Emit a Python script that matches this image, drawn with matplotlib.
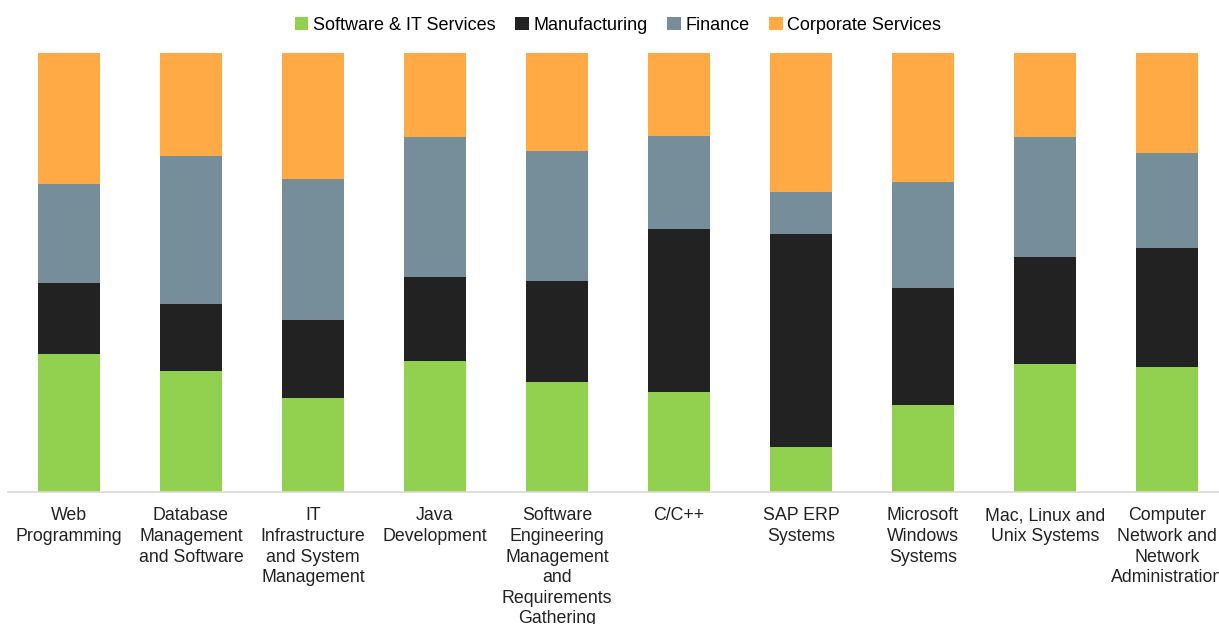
import numpy as np
import matplotlib.pyplot as plt

plt.rcParams['font.family'] = ['Liberation Sans', 'DejaVu Sans']

categories = ['Web\nProgramming', 'Database\nManagement\nand Software',
              'IT\nInfrastructure\nand System\nManagement', 'Java\nDevelopment',
              'Software\nEngineering\nManagement\nand\nRequirements\nGathering',
              'C/C++', 'SAP ERP\nSystems', 'Microsoft\nWindows\nSystems',
              'Mac, Linux and\nUnix Systems',
              'Computer\nNetwork and\nNetwork\nAdministration']

software = [31.4, 27.6, 21.4, 29.8, 25.1, 22.8, 10.3, 19.8, 29.2, 28.5]
manufacturing = [16.2, 15.3, 17.8, 19.1, 23.0, 37.1, 48.5, 26.7, 24.4, 27.1]
finance = [22.6, 33.7, 32.1, 31.9, 29.6, 21.2, 9.6, 24.1, 27.3, 21.6]
corporate = [29.8, 23.5, 28.7, 19.1, 22.3, 18.9, 31.7, 29.4, 19.1, 22.8]

series = [('Software & IT Services', software, '#92D050'),
          ('Manufacturing', manufacturing, '#222222'),
          ('Finance', finance, '#758E99'),
          ('Corporate Services', corporate, '#FFAA44')]

fig = plt.figure(figsize=(12.19, 6.24), dpi=100)
ax = fig.add_axes([8 / 1219, 132 / 624, 1220 / 1219, 439 / 624])

x = np.arange(len(categories))
totals = np.sum([s[1] for s in series], axis=0)
bottom = np.zeros(len(categories))
for name, vals, color in series:
    pct = np.array(vals) / totals * 100
    ax.bar(x, pct, 0.51, bottom=bottom, color=color, label=name, zorder=2)
    bottom += pct

ax.set_xlim(-0.5, len(categories) - 0.5)
ax.set_ylim(0, 100)
ax.set_xticks(x)
ax.set_xticklabels(categories, fontsize=12.8, color='#222222', linespacing=1.28)
ax.tick_params(axis='x', length=0, pad=11)
ax.set_yticks([])
for side in ['top', 'right', 'left']:
    ax.spines[side].set_visible(False)
ax.spines['bottom'].set_color('#D9D9D9')
ax.spines['bottom'].set_linewidth(1.2)

ax.legend(loc='upper center', bbox_to_anchor=(0.5, 1.12), ncol=4, frameon=False,
          fontsize=13, handlelength=0.75, handleheight=0.75, handletextpad=0.25,
          columnspacing=1.1)

fig.savefig('out.png', dpi=100)
